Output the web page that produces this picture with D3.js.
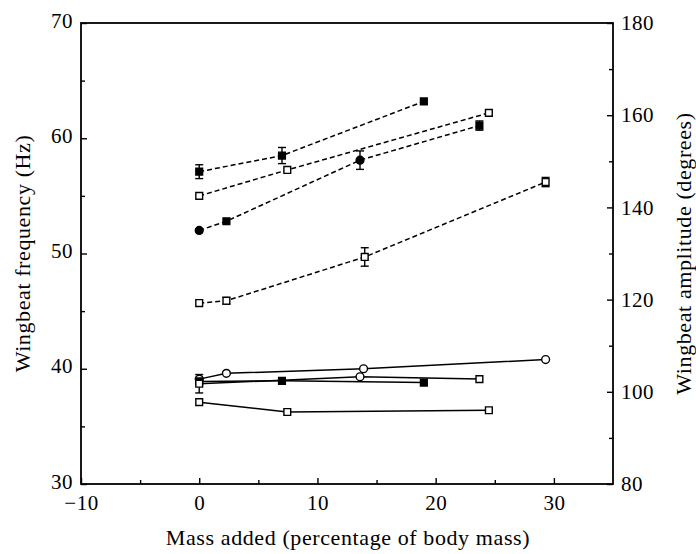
<!DOCTYPE html>
<html>
<head>
<meta charset="utf-8">
<script src="https://cdn.jsdelivr.net/npm/d3@7"></script>
<style>
  body { margin: 0; background: #fff; }
  text { font-family: "Liberation Serif", "DejaVu Serif", serif; fill: #000; }
</style>
</head>
<body>
<div id="canvas"></div>
<script>
// axis ticks
var xTicks = [-10, 0, 10, 20, 30];
var yTicksL = [30, 40, 50, 60, 70];
var yTicksR = [80, 100, 120, 140, 160, 180];

// dashed series (drawn on the left scale)
var massD1 = [0, 7.0, 19.0],        valD1 = [57.1, 58.5, 63.2],       errD1 = [0.6, 0.7, 0],        symD1 = ['fs', 'fs', 'fs'];
var massD2 = [0, 7.45, 24.5],       valD2 = [55.0, 57.25, 62.2],      errD2 = [0, 0, 0],            symD2 = ['os', 'os', 'os'];
var massD3 = [0, 2.3, 13.6, 23.7],  valD3 = [52.0, 52.8, 58.1, 61.1], errD3 = [0, 0, 0.8, 0.4],     symD3 = ['fc', 'fs', 'fc', 'fs'];
var massD4 = [0, 2.3, 14.0, 29.3],  valD4 = [45.7, 45.9, 49.7, 56.2], errD4 = [0, 0.3, 0.8, 0.4],   symD4 = ['os', 'os', 'os', 'os'];

// solid series
var massS1 = [0, 2.3, 13.9, 29.3],  valS1 = [39.1, 39.6, 40.0, 40.8], errS1 = [0, 0, 0, 0],         symS1 = ['oc', 'oc', 'oc', 'oc'];
var massS2 = [0, 7.0, 19.0],        valS2 = [38.9, 38.95, 38.8],      errS2 = [0, 0, 0],            symS2 = ['fs', 'fs', 'fs'];
var massS3 = [0, 13.6, 23.7],       valS3 = [38.7, 39.3, 39.1],       errS3 = [0.8, 0, 0],          symS3 = ['os', 'oc', 'os'];
var massS4 = [0, 7.45, 24.5],       valS4 = [37.1, 36.25, 36.4],      errS4 = [0, 0, 0],            symS4 = ['os', 'os', 'os'];

function build(mass, val, err, sym, dashed) {
  return {
    dashed: dashed,
    pts: mass.map(function(m, i) { return {x: m, y: val[i], e: err[i], s: sym[i]}; })
  };
}

var series = [
  build(massD1, valD1, errD1, symD1, true),
  build(massD2, valD2, errD2, symD2, true),
  build(massD3, valD3, errD3, symD3, true),
  build(massD4, valD4, errD4, symD4, true),
  build(massS1, valS1, errS1, symS1, false),
  build(massS2, valS2, errS2, symS2, false),
  build(massS3, valS3, errS3, symS3, false),
  build(massS4, valS4, errS4, symS4, false)
];

var m = {t: 23, r: 83, b: 70, l: 81},
    W = 696, H = 554,
    w = W - m.l - m.r,
    h = H - m.t - m.b;

var svg = d3.select('#canvas')
  .append('svg')
  .attr('width', W)
  .attr('height', H);

var plot = svg.append('g')
  .attr('transform', 'translate(' + m.l + ',' + m.t + ')');

// Scale
var scaleX = d3.scaleLinear().domain([-10, 35]).range([0, w]);
var scaleY = d3.scaleLinear().domain([30, 70]).range([h, 0]);
var scaleYR = d3.scaleLinear().domain([80, 180]).range([h, 0]);

// minor ticks (inward, no labels)
plot.append('g')
  .attr('transform', 'translate(0,' + h + ')')
  .call(d3.axisBottom(scaleX).tickValues(d3.range(-5, 35, 10)).tickSize(-4).tickFormat(''));
plot.append('g')
  .call(d3.axisLeft(scaleY).tickValues(d3.range(35, 70, 10)).tickSize(-4).tickFormat(''));
plot.append('g')
  .attr('transform', 'translate(' + w + ',0)')
  .call(d3.axisRight(scaleYR).tickValues(d3.range(90, 180, 20)).tickSize(-4).tickFormat(''));

// major ticks
var axisX = plot.append('g')
  .attr('class', 'axis axis-x')
  .attr('transform', 'translate(0,' + h + ')')
  .call(d3.axisBottom(scaleX).tickValues(xTicks).tickSize(-6).tickPadding(11)
    .tickFormat(function(d) { return d < 0 ? '\u2212' + (-d) : d; }));
var axisY = plot.append('g')
  .attr('class', 'axis axis-y')
  .call(d3.axisLeft(scaleY).tickValues(yTicksL).tickSize(-6).tickPadding(8));
var axisYR = plot.append('g')
  .attr('class', 'axis axis-yr')
  .attr('transform', 'translate(' + w + ',0)')
  .call(d3.axisRight(scaleYR).tickValues(yTicksR).tickSize(-6).tickPadding(8));

svg.selectAll('.tick text').style('font-size', '21px').style('letter-spacing', '0.5px');
axisY.selectAll('.tick text').attr('dy', '0.2em');
svg.selectAll('.domain').remove();
svg.selectAll('.tick line').attr('stroke', '#000').attr('stroke-width', 1.4);

// frame
plot.append('rect')
  .attr('width', w).attr('height', h)
  .attr('fill', 'none').attr('stroke', '#000').attr('stroke-width', 1.8);

// lines
var line = d3.line()
  .x(function(d) { return scaleX(d.x); })
  .y(function(d) { return scaleY(d.y); });

plot.selectAll('path.series')
  .data(series)
  .enter()
  .append('path')
  .attr('class', 'series')
  .attr('d', function(d) { return line(d.pts); })
  .attr('fill', 'none')
  .attr('stroke', '#000')
  .attr('stroke-width', 1.5)
  .attr('stroke-dasharray', function(d) { return d.dashed ? '5,3' : null; });

var allPts = [];
series.forEach(function(s) { s.pts.forEach(function(p) { allPts.push(p); }); });

// error bars
var eb = plot.selectAll('g.err')
  .data(allPts.filter(function(p) { return p.e > 0; }))
  .enter()
  .append('g')
  .attr('class', 'err')
  .attr('stroke', '#000')
  .attr('stroke-width', 1.4);
eb.append('line')
  .attr('x1', function(d) { return scaleX(d.x); })
  .attr('x2', function(d) { return scaleX(d.x); })
  .attr('y1', function(d) { return scaleY(d.y - d.e); })
  .attr('y2', function(d) { return scaleY(d.y + d.e); });
[-1, 1].forEach(function(sg) {
  eb.append('line')
    .attr('x1', function(d) { return scaleX(d.x) - 4; })
    .attr('x2', function(d) { return scaleX(d.x) + 4; })
    .attr('y1', function(d) { return scaleY(d.y + sg * d.e); })
    .attr('y2', function(d) { return scaleY(d.y + sg * d.e); });
});

// markers
var sq = d3.symbol().type(d3.symbolSquare).size(46);
var ci = d3.symbol().type(d3.symbolCircle).size(48);
plot.selectAll('path.mark')
  .data(allPts)
  .enter()
  .append('path')
  .attr('class', 'mark')
  .attr('d', function(d) { return d.s[1] === 's' ? sq() : ci(); })
  .attr('transform', function(d) { return 'translate(' + scaleX(d.x) + ',' + scaleY(d.y) + ')'; })
  .attr('fill', function(d) { return d.s[0] === 'f' ? '#000' : '#fff'; })
  .attr('stroke', '#000')
  .attr('stroke-width', 1.4);

// axis titles
svg.append('text')
  .attr('x', 348)
  .attr('y', 545)
  .attr('text-anchor', 'middle')
  .style('font-size', '22px')
  .style('letter-spacing', '0.6px')
  .text('Mass added (percentage of body mass)');
svg.append('text')
  .attr('transform', 'translate(30,' + (m.t + h / 2) + ') rotate(-90)')
  .attr('text-anchor', 'middle')
  .style('font-size', '22px')
  .style('letter-spacing', '0.6px')
  .text('Wingbeat frequency (Hz)');
svg.append('text')
  .attr('transform', 'translate(691,' + (m.t + h / 2) + ') rotate(-90)')
  .attr('text-anchor', 'middle')
  .style('font-size', '22px')
  .style('letter-spacing', '0.6px')
  .text('Wingbeat amplitude (degrees)');
</script>
</body>
</html>
